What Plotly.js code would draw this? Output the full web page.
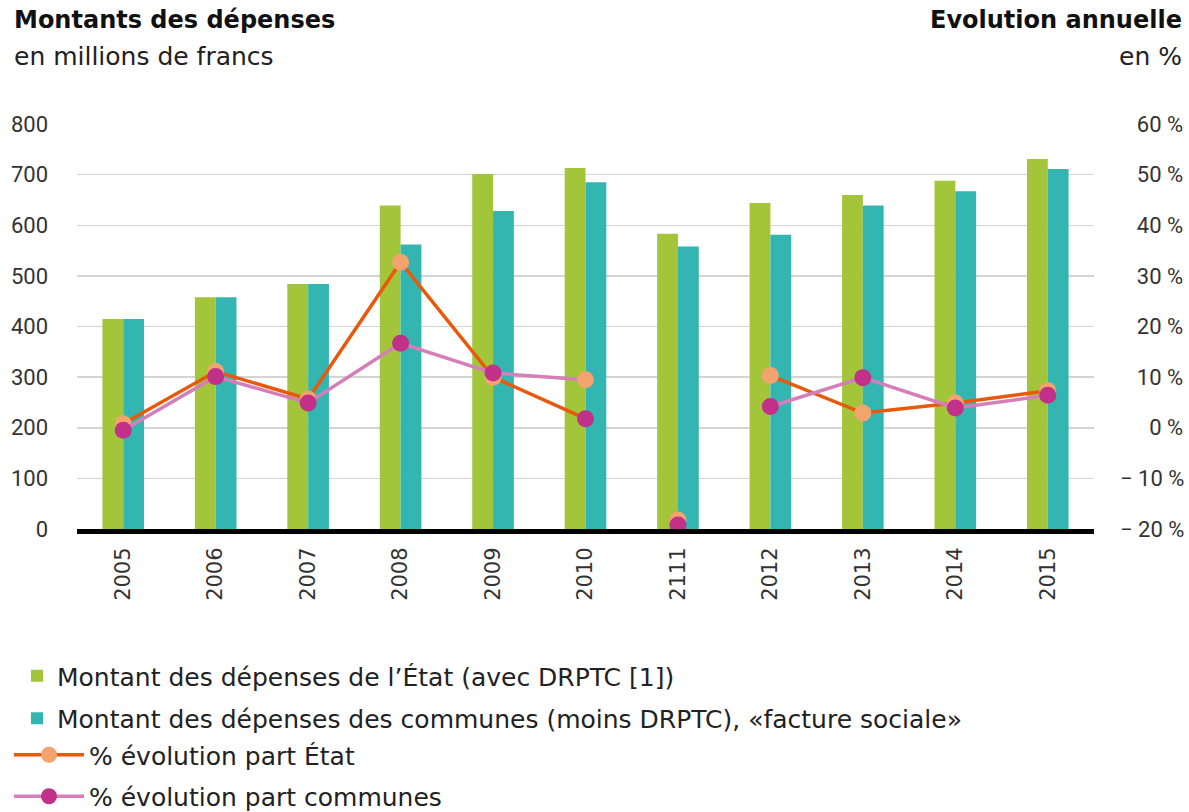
<!DOCTYPE html>
<html>
<head>
<meta charset="utf-8">
<script src="https://cdn.plot.ly/plotly-3.0.1.min.js"></script>
<style>
  body { margin: 0; background: #fff; }
  #chart { width: 1189px; height: 812px; }
</style>
</head>
<body>
<div id="chart"></div>
<script>
// années (2111 tel quel dans l'original)
var years = ['2005', '2006', '2007', '2008', '2009', '2010', '2111', '2012', '2013', '2014', '2015'];

// montants en millions de francs
var etatMontant = [415, 458, 484, 639, 701, 713, 583, 644, 660, 688, 731];
var communesMontant = [415, 458, 484, 562, 628, 685, 558, 581, 639, 667, 711];

// évolution annuelle en %
var etatPct = [0.8, 11.1, 5.7, 32.7, 10.0, 1.8, -18.2, 10.3, 2.9, 4.9, 7.3];
var communesPct = [-0.5, 10.1, 4.9, 16.7, 10.8, 9.5, -19.2, 4.2, 9.9, 3.9, 6.4];

// graduations de l'axe de droite
var pctTicks = [-20, -10, 0, 10, 20, 30, 40, 50, 60];

var green = '#a2c53a';
var teal = '#33b6b2';
var orangeLine = '#e8590c';
var orangeDot = '#f2a36e';
var pinkLine = '#d47fba';
var magentaDot = '#c1318a';

var gapIndex = years.indexOf('2111');

function withGap(arr) {
    return arr.map(function (v, i) { return i === gapIndex ? null : v; });
}

// dans l'original, les points de 2010 ont les couleurs inversées
function dotColors(main, other) {
    return years.map(function (y) { return y === '2010' ? other : main; });
}

// libellés alignés à droite (espaces de chiffre devant)
function pctLabel(v) {
    var digits = String(Math.abs(v));
    if (digits.length < 2) digits = '\u2007' + digits;
    return (v < 0 ? '\u2212 ' : '\u2007\u2009') + digits + ' %';
}

var traces = [{
    type: 'bar',
    x: years,
    y: etatMontant,
    name: 'Montant des dépenses de l\u2019État (avec DRPTC [1])',
    legendgroup: 'a',
    marker: { color: green }
}, {
    type: 'bar',
    x: years,
    y: communesMontant,
    name: 'Montant des dépenses des communes (moins DRPTC), «facture sociale»',
    legendgroup: 'b',
    marker: { color: teal }
}, {
    type: 'scatter',
    mode: 'lines+markers',
    x: years,
    y: withGap(etatPct),
    yaxis: 'y2',
    name: '% évolution part État',
    legend: 'legend2',
    legendgroup: 'c',
    connectgaps: false,
    line: { color: orangeLine, width: 3.5 },
    marker: { color: dotColors(orangeDot, magentaDot), size: 17 }
}, {
    type: 'scatter',
    mode: 'markers',
    x: [years[gapIndex]],
    y: [etatPct[gapIndex]],
    yaxis: 'y2',
    showlegend: false,
    legend: 'legend2',
    legendgroup: 'c',
    marker: { color: orangeDot, size: 17 }
}, {
    type: 'scatter',
    mode: 'lines+markers',
    x: years,
    y: withGap(communesPct),
    yaxis: 'y2',
    name: '% évolution part communes',
    legend: 'legend2',
    legendgroup: 'd',
    connectgaps: false,
    line: { color: pinkLine, width: 3.5 },
    marker: { color: dotColors(magentaDot, orangeDot), size: 17 }
}, {
    type: 'scatter',
    mode: 'markers',
    x: [years[gapIndex]],
    y: [communesPct[gapIndex]],
    yaxis: 'y2',
    showlegend: false,
    legend: 'legend2',
    legendgroup: 'd',
    marker: { color: magentaDot, size: 17 }
}];

var sans = '"DejaVu Sans", sans-serif';
var tickFont = { family: 'Roboto, sans-serif', size: 22, color: '#333' };
var legendFont = { family: sans, size: 25, color: '#222' };

var W = 1189, H = 812;
var mL = 77, mR = 95, mT = 124, mB = 283;
var plotW = W - mL - mR, plotH = H - mT - mB;

var layout = {
    width: W,
    height: H,
    margin: { l: mL, r: mR, t: mT, b: mB, autoexpand: false },
    paper_bgcolor: '#fff',
    plot_bgcolor: '#fff',
    font: { family: sans, color: '#222' },
    barmode: 'group',
    bargap: 0.55,
    bargroupgap: 0,
    showlegend: true,
    legend: {
        xref: 'container', yref: 'container',
        x: 17 / W, xanchor: 'left',
        y: 1 - 653 / H, yanchor: 'top',
        bgcolor: 'rgba(0,0,0,0)',
        font: legendFont,
        tracegroupgap: 7,
        itemwidth: 30,
        traceorder: 'grouped'
    },
    legend2: {
        xref: 'container', yref: 'container',
        x: 9 / W, xanchor: 'left',
        y: 1 - 732 / H, yanchor: 'top',
        bgcolor: 'rgba(0,0,0,0)',
        font: legendFont,
        tracegroupgap: 6,
        itemwidth: 70,
        traceorder: 'grouped'
    },
    xaxis: {
        type: 'category',
        range: [-0.5, years.length - 0.5],
        tickangle: -90,
        tickfont: { family: sans, size: 21, color: '#333' },
        ticks: '',
        ticklabelstandoff: 5,
        showgrid: false,
        showline: true,
        linecolor: '#000',
        linewidth: 5,
        fixedrange: true
    },
    yaxis: {
        range: [0, 800],
        dtick: 100,
        tickfont: tickFont,
        showgrid: true,
        gridcolor: '#d4d4d4',
        gridwidth: 1.5,
        zeroline: false,
        ticks: '',
        ticklabelstandoff: 28
    },
    yaxis2: {
        overlaying: 'y',
        side: 'right',
        range: [-20, 60],
        tickmode: 'array',
        tickvals: pctTicks,
        ticktext: pctTicks.map(pctLabel),
        tickfont: tickFont,
        showgrid: false,
        zeroline: false,
        ticks: '',
        ticklabelstandoff: 25
    },
    annotations: [{
        xref: 'paper', yref: 'paper', x: (12 - mL) / plotW, y: (mT - 20) / plotH + 1,
        xanchor: 'left', yanchor: 'middle', showarrow: false,
        text: '<b>Montants des dépenses</b>',
        font: { family: sans, size: 24, color: '#111' }
    }, {
        xref: 'paper', yref: 'paper', x: (12 - mL) / plotW, y: (mT - 56) / plotH + 1,
        xanchor: 'left', yanchor: 'middle', showarrow: false,
        text: 'en millions de francs',
        font: { family: sans, size: 25, color: '#222' }
    }, {
        xref: 'paper', yref: 'paper', x: (1184 - mL) / plotW, y: (mT - 20) / plotH + 1,
        xanchor: 'right', yanchor: 'middle', showarrow: false,
        text: '<b>Evolution annuelle</b>',
        font: { family: sans, size: 24, color: '#111' }
    }, {
        xref: 'paper', yref: 'paper', x: (1184 - mL) / plotW, y: (mT - 56) / plotH + 1,
        xanchor: 'right', yanchor: 'middle', showarrow: false,
        text: 'en %',
        font: { family: sans, size: 25, color: '#222' }
    }]
};

Plotly.newPlot('chart', traces, layout, { displayModeBar: false, staticPlot: true });
</script>
</body>
</html>
